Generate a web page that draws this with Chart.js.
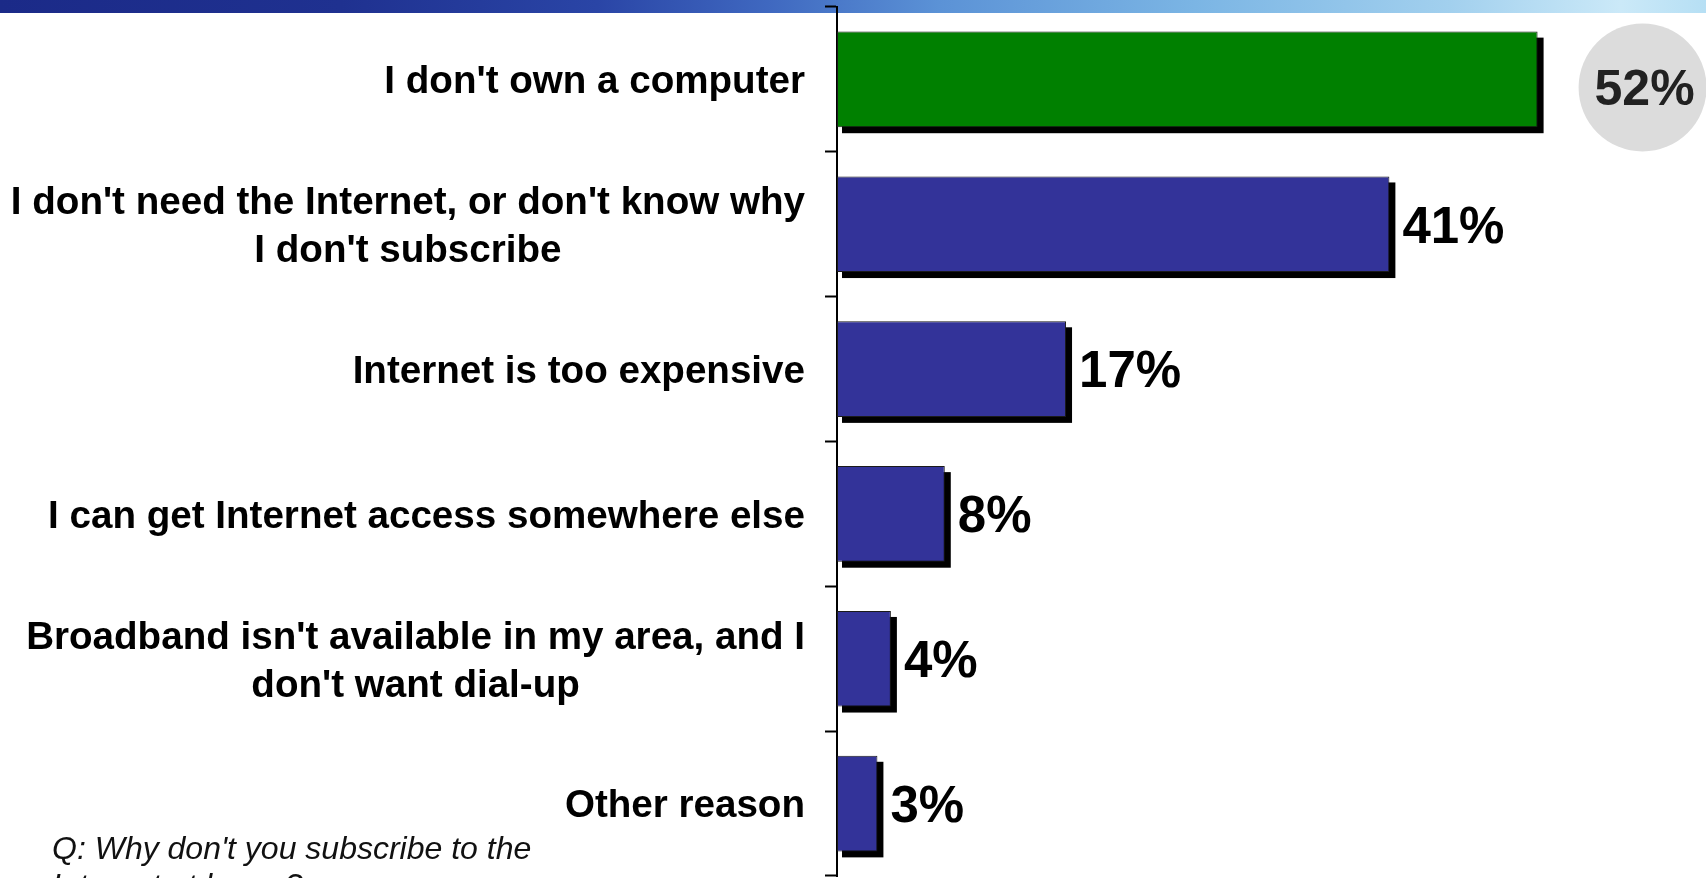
<!DOCTYPE html>
<html>
<head>
<meta charset="utf-8">
<script src="https://cdn.jsdelivr.net/npm/chart.js@4.4.1/dist/chart.umd.min.js"></script>
<style>
  html, body { margin: 0; padding: 0; background: #ffffff; overflow: hidden; }
  #wrap { position: relative; width: 1706px; height: 878px; }
  canvas { display: block; }
</style>
</head>
<body>
<div id="wrap"><canvas id="c" width="1706" height="878"></canvas></div>
<script>
// ---- data ----
const categories = [
  ["I don't own a computer"],
  ["I don't need the Internet, or don't know why", "I don't subscribe"],
  ["Internet is too expensive"],
  ["I can get Internet access somewhere else"],
  ["Broadband isn't available in my area, and I", "don't want dial-up"],
  ["Other reason"]
];
const values = [52, 41, 17, 8, 4, 3];
const valueLabels = ["52%", "41%", "17%", "8%", "4%", "3%"];
const footnote = ["Q: Why don't you subscribe to the", "Internet at home?"];

// ---- styles ----
const GREEN = '#008000';
const BLUE = '#333399';
const LABEL_FONT = 'bold 38.6px "Liberation Sans", Arial, sans-serif';
const VALUE_FONT = 'bold 51px "Liberation Sans", Arial, sans-serif';
const CIRCLE_FONT = 'bold 50px "Liberation Sans", Arial, sans-serif';
const NOTE_FONT = 'italic 32px "Liberation Sans", Arial, sans-serif';

const bandPlugin = {
  id: 'band',
  beforeDraw(chart) {
    const ctx = chart.ctx;
    const w = chart.width;
    ctx.save();
    ctx.fillStyle = '#ffffff';
    ctx.fillRect(0, 0, w, chart.height);
    const g = ctx.createLinearGradient(0, 0, w, 0);
    g.addColorStop(0.00, '#1b2a88');
    g.addColorStop(0.20, '#1f3190');
    g.addColorStop(0.35, '#2a45a6');
    g.addColorStop(0.45, '#3f68c0');
    g.addColorStop(0.55, '#5b92d6');
    g.addColorStop(0.70, '#7bb5e4');
    g.addColorStop(0.85, '#a2d0ee');
    g.addColorStop(0.95, '#cbe9f8');
    g.addColorStop(1.00, '#b6dff4');
    ctx.fillStyle = g;
    ctx.fillRect(0, 0, w, 13);
    ctx.restore();
  }
};

const shadowPlugin = {
  id: 'shadow',
  beforeDatasetsDraw(chart) {
    const ctx = chart.ctx;
    const meta = chart.getDatasetMeta(0);
    ctx.save();
    ctx.fillStyle = '#000000';
    meta.data.forEach(bar => {
      const h = bar.height;
      const left = Math.min(bar.base, bar.x) + 5;
      const right = Math.max(bar.base, bar.x) + 6;
      ctx.fillRect(left, bar.y - h / 2 + 6, right - left, h);
    });
    ctx.restore();
  }
};

const labelPlugin = {
  id: 'labels',
  afterDraw(chart) {
    const ctx = chart.ctx;
    const yScale = chart.scales.y;
    const meta = chart.getDatasetMeta(0);
    ctx.save();
    // category labels
    ctx.fillStyle = '#000000';
    ctx.font = LABEL_FONT;
    ctx.textBaseline = 'alphabetic';
    const rightX = 805;
    const lh = 48;
    categories.forEach((lines, i) => {
      const yc = yScale.getPixelForValue(i);
      const maxW = Math.max(...lines.map(l => ctx.measureText(l).width));
      const n = lines.length;
      lines.forEach((line, k) => {
        const yLine = yc + (k - (n - 1) / 2) * lh + 38.6 * 0.36;
        if (n === 1) {
          ctx.textAlign = 'right';
          ctx.fillText(line, rightX, yLine);
        } else {
          ctx.textAlign = 'center';
          ctx.fillText(line, rightX - maxW / 2, yLine);
        }
      });
    });
    // value labels
    meta.data.forEach((bar, i) => {
      if (i === 0) {
        const cx = bar.x + 105;
        const cy = bar.y + 8;
        ctx.fillStyle = '#dcdcdc';
        ctx.beginPath();
        ctx.arc(cx, cy, 64, 0, Math.PI * 2);
        ctx.fill();
        ctx.fillStyle = '#222222';
        ctx.font = CIRCLE_FONT;
        ctx.textAlign = 'center';
        ctx.fillText(valueLabels[i], cx + 2, cy + 50 * 0.36);
      } else {
        ctx.fillStyle = '#000000';
        ctx.font = VALUE_FONT;
        ctx.textAlign = 'left';
        ctx.fillText(valueLabels[i], bar.x + 13, bar.y + 51 * 0.36);
      }
    });
    // footnote
    ctx.fillStyle = '#111111';
    ctx.font = NOTE_FONT;
    ctx.textAlign = 'left';
    footnote.forEach((line, k) => {
      ctx.fillText(line, 52, 859 + k * 37);
    });
    ctx.restore();
  }
};

new Chart(document.getElementById('c'), {
  type: 'bar',
  data: {
    labels: categories,
    datasets: [{
      data: values,
      backgroundColor: ctx => ctx.dataIndex === 0 ? GREEN : BLUE,
      borderColor: '#1a1a1a',
      borderWidth: 1,
      borderSkipped: false,
      barPercentage: 0.66,
      categoryPercentage: 1.0
    }]
  },
  options: {
    indexAxis: 'y',
    responsive: false,
    animation: false,
    devicePixelRatio: 1,
    layout: { padding: { top: 7, bottom: 2, left: 0, right: 0 } },
    plugins: {
      legend: { display: false },
      tooltip: { enabled: false },
      title: { display: false }
    },
    scales: {
      x: {
        display: false,
        min: 0,
        max: 64.5
      },
      y: {
        position: 'left',
        afterFit(scale) { scale.width = 837; },
        ticks: { display: false },
        grid: {
          display: true,
          drawOnChartArea: false,
          drawTicks: true,
          tickLength: 12,
          tickColor: '#000000',
          tickWidth: 2,
          offset: true
        },
        border: { display: true, color: '#000000', width: 2 }
      }
    }
  },
  plugins: [bandPlugin, shadowPlugin, labelPlugin]
});
</script>
</body>
</html>
